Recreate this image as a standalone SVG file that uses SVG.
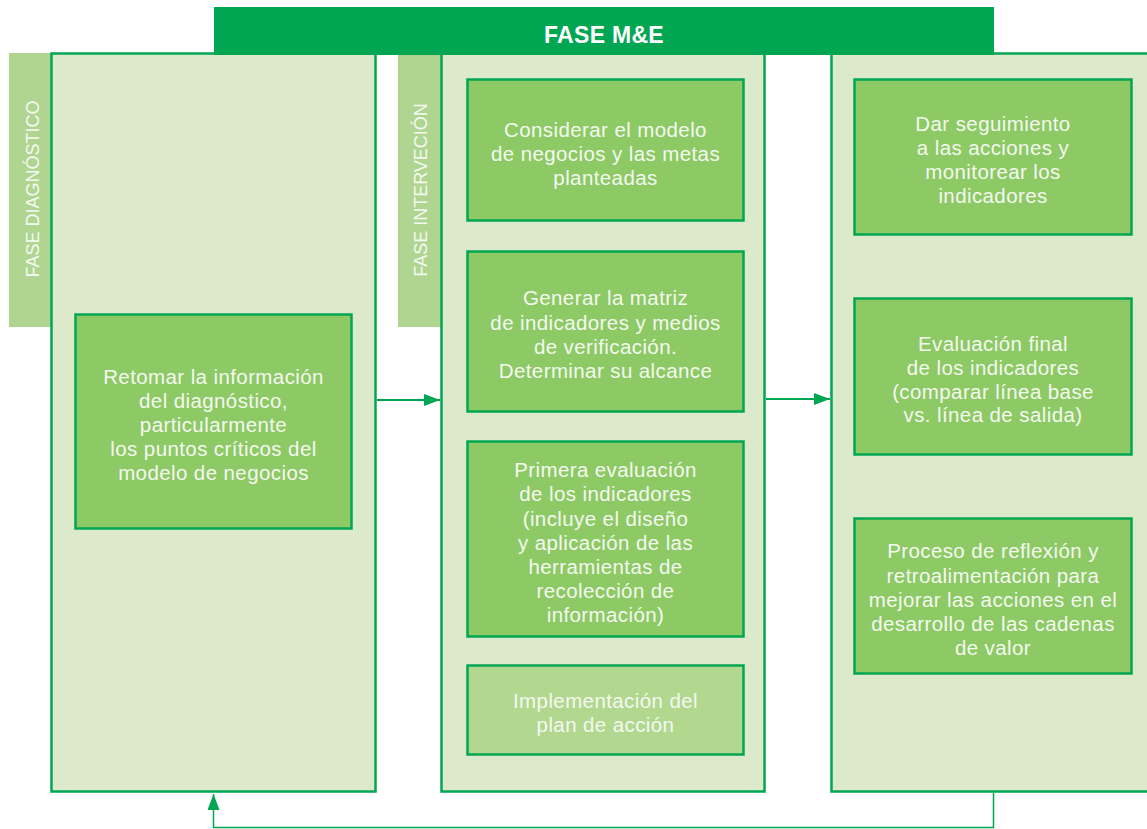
<svg xmlns="http://www.w3.org/2000/svg" width="1147" height="829" viewBox="0 0 1147 829">
  <style>
    .panel { fill: #dde9cb; stroke: #00a651; stroke-width: 2.5; }
    .tab { fill: #b0d590; }
    .box { fill: #8dc965; stroke: #00a651; stroke-width: 2.5; }
    .box-light { fill: #b2d78f; stroke: #00a651; stroke-width: 2.5; }
    .txt { font-family: "Liberation Sans", Arial, sans-serif; font-size: 20.5px; letter-spacing: 0.4px; fill: #f4f9f0; text-anchor: middle; }
    .tabtxt { font-family: "Liberation Sans", Arial, sans-serif; font-size: 18px; fill: #f4f9f0; text-anchor: middle; }
    .title { font-family: "Liberation Sans", Arial, sans-serif; font-size: 23px; letter-spacing: 0.3px; font-weight: bold; fill: #ffffff; text-anchor: middle; }
    .conn { fill: none; stroke: #00a651; }
  </style>
  <defs>
    <marker id="arrow" viewBox="0 0 16 12" refX="16" refY="6" markerWidth="16" markerHeight="12" markerUnits="userSpaceOnUse" orient="auto">
      <path d="M0,0 L16,6 L0,12 Z" fill="#00a651"/>
    </marker>
  </defs>

  <rect width="1147" height="829" fill="#ffffff"/>

  <!-- Phase columns -->
  <g id="col-diagnostico">
    <rect class="tab" x="9" y="53" width="42" height="274"/>
    <text class="tabtxt" transform="translate(39,189) rotate(-90)">FASE DIAGNÓSTICO</text>
    <rect class="panel" x="51.5" y="53.5" width="324" height="738"/>
  </g>
  <g id="col-intervencion">
    <rect class="tab" x="398" y="53" width="43" height="274"/>
    <text class="tabtxt" transform="translate(427,190) rotate(-90)">FASE INTERVECIÓN</text>
    <rect class="panel" x="441.5" y="53.5" width="323" height="738"/>
  </g>
  <g id="col-me">
    <rect class="panel" x="831.5" y="53.5" width="330" height="738"/>
  </g>

  <!-- Header banner -->
  <g id="banner">
    <rect x="214" y="7" width="780" height="48" fill="#00a651"/>
    <text class="title" x="604" y="43">FASE M&amp;E</text>
  </g>

  <!-- Diagnostic step -->
  <g id="n-retomar">
    <rect class="box" x="75.5" y="314.5" width="276" height="214"/>
    <text class="txt" x="213.5" y="384">Retomar la información</text>
    <text class="txt" x="213.5" y="408">del diagnóstico,</text>
    <text class="txt" x="213.5" y="432">particularmente</text>
    <text class="txt" x="213.5" y="456">los puntos críticos del</text>
    <text class="txt" x="213.5" y="480">modelo de negocios</text>
  </g>

  <!-- Intervention steps -->
  <g id="n-considerar">
    <rect class="box" x="467.5" y="79.5" width="276" height="141"/>
    <text class="txt" x="605.5" y="137">Considerar el modelo</text>
    <text class="txt" x="605.5" y="161">de negocios y las metas</text>
    <text class="txt" x="605.5" y="185">planteadas</text>
  </g>
  <g id="n-matriz">
    <rect class="box" x="467.5" y="251.5" width="276" height="160"/>
    <text class="txt" x="605.5" y="305">Generar la matriz</text>
    <text class="txt" x="605.5" y="330">de indicadores y medios</text>
    <text class="txt" x="605.5" y="354">de verificación.</text>
    <text class="txt" x="605.5" y="378">Determinar su alcance</text>
  </g>
  <g id="n-primera">
    <rect class="box" x="467.5" y="441.5" width="276" height="195"/>
    <text class="txt" x="605.5" y="477">Primera evaluación</text>
    <text class="txt" x="605.5" y="501">de los indicadores</text>
    <text class="txt" x="605.5" y="526">(incluye el diseño</text>
    <text class="txt" x="605.5" y="550">y aplicación de las</text>
    <text class="txt" x="605.5" y="574">herramientas de</text>
    <text class="txt" x="605.5" y="598">recolección de</text>
    <text class="txt" x="605.5" y="622">información)</text>
  </g>
  <g id="n-implementacion">
    <rect class="box-light" x="467.5" y="665.5" width="276" height="89"/>
    <text class="txt" x="605.5" y="708">Implementación del</text>
    <text class="txt" x="605.5" y="732">plan de acción</text>
  </g>

  <!-- M&E steps -->
  <g id="n-seguimiento">
    <rect class="box" x="854.5" y="79.5" width="277" height="155"/>
    <text class="txt" x="993" y="131">Dar seguimiento</text>
    <text class="txt" x="993" y="155">a las acciones y</text>
    <text class="txt" x="993" y="179">monitorear los</text>
    <text class="txt" x="993" y="203">indicadores</text>
  </g>
  <g id="n-evaluacion">
    <rect class="box" x="854.5" y="298.5" width="277" height="156"/>
    <text class="txt" x="993" y="351">Evaluación final</text>
    <text class="txt" x="993" y="375">de los indicadores</text>
    <text class="txt" x="993" y="399">(comparar línea base</text>
    <text class="txt" x="993" y="422">vs. línea de salida)</text>
  </g>
  <g id="n-reflexion">
    <rect class="box" x="854.5" y="518.5" width="277" height="155"/>
    <text class="txt" x="993" y="558">Proceso de reflexión y</text>
    <text class="txt" x="993" y="583">retroalimentación para</text>
    <text class="txt" x="993" y="607">mejorar las acciones en el</text>
    <text class="txt" x="993" y="631">desarrollo de las cadenas</text>
    <text class="txt" x="993" y="655">de valor</text>
  </g>

  <!-- Connectors -->
  <g id="connectors">
    <line class="conn" x1="377" y1="400" x2="440" y2="400" stroke-width="2" marker-end="url(#arrow)"/>
    <line class="conn" x1="766" y1="399" x2="830" y2="399" stroke-width="2" marker-end="url(#arrow)"/>
    <polyline class="conn" points="993.5,793 993.5,827.5 213.5,827.5 213.5,794" stroke-width="1.5" marker-end="url(#arrow)"/>
  </g>
</svg>
